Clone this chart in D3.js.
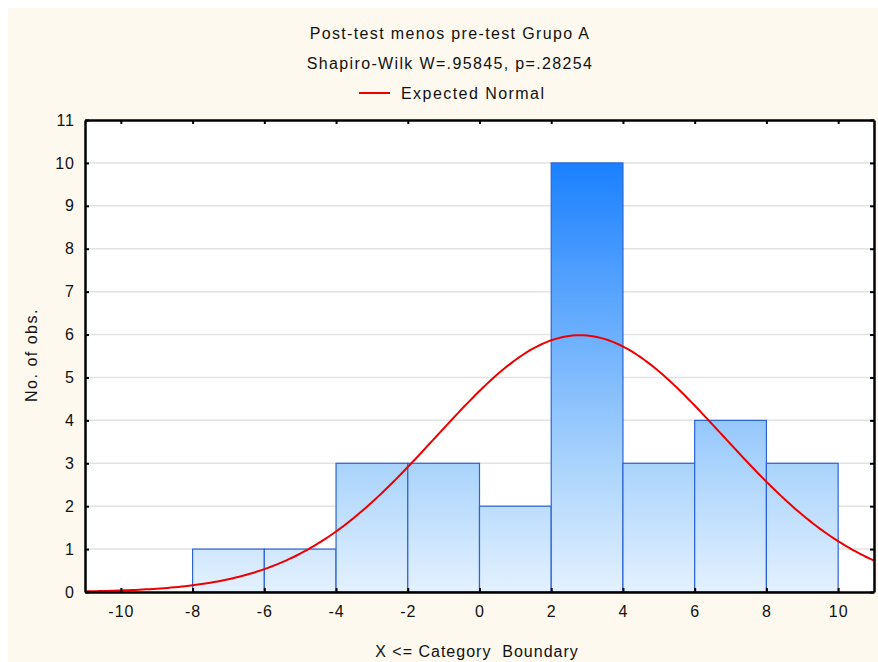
<!DOCTYPE html>
<html><head><meta charset="utf-8">
<script src="https://cdn.jsdelivr.net/npm/d3@7"></script>
<style>body{margin:0;background:#fff}svg{display:block}text{font-family:"Liberation Sans",Arial,sans-serif;fill:#111}</style>
</head><body><svg id="c" width="878" height="662"></svg>
<script>
// Data
const binStarts = [-8, -6, -4, -2, 0, 2, 4, 6, 8];
const binEnds   = [-6, -4, -2, 0, 2, 4, 6, 8, 10];
const counts    = [1, 1, 3, 3, 2, 10, 3, 4, 3];
const xTicks    = [-10, -8, -6, -4, -2, 0, 2, 4, 6, 8, 10];
const yTicks    = [0, 1, 2, 3, 4, 5, 6, 7, 8, 9, 10, 11];
const normalMean = 2.8, normalSD = 4.0, nObs = 30, binWidth = 2;
const titleLines = ["Post-test menos pre-test Grupo A", "Shapiro-Wilk W=.95845, p=.28254"];
const legendLabel = "Expected Normal";

const svg = d3.select("#c");
svg.append("rect").attr("x",8).attr("y",8).attr("width",870).attr("height",654).attr("fill","#fef9ef");

const L=85, R=874, T=120, B=592;
const x = d3.scaleLinear().domain([-11,11]).range([L,R]);
const y = d3.scaleLinear().domain([0,11]).range([B,T]);

svg.append("rect").attr("x",L).attr("y",T).attr("width",R-L).attr("height",B-T).attr("fill","#fff");

// gradient
const defs = svg.append("defs");
const g = defs.append("linearGradient").attr("id","bg").attr("gradientUnits","userSpaceOnUse")
  .attr("x1",0).attr("x2",0).attr("y1",y(0)).attr("y2",y(10));
g.append("stop").attr("offset","0").attr("stop-color","#e4f1ff");
g.append("stop").attr("offset","0.3").attr("stop-color","#a9d3fc");
g.append("stop").attr("offset","1").attr("stop-color","#1a80ff");

// grid
svg.append("g").selectAll("line").data(yTicks.filter(d=>d>0&&d<11)).join("line")
  .attr("x1",L).attr("x2",R).attr("y1",d=>y(d)).attr("y2",d=>y(d))
  .attr("stroke","#e2e2e2").attr("stroke-width",1.5);

// bars
svg.append("g").selectAll("rect").data(counts).join("rect")
  .attr("x",(d,i)=>x(binStarts[i])).attr("width",(d,i)=>x(binEnds[i])-x(binStarts[i]))
  .attr("y",d=>y(d)).attr("height",d=>y(0)-y(d))
  .attr("fill","url(#bg)").attr("stroke","#2c63d6").attr("stroke-width",1.2);

// normal curve
const pdf = v => Math.exp(-0.5*((v-normalMean)/normalSD)**2)/(normalSD*Math.sqrt(2*Math.PI));
const xs = d3.range(-11, 11.001, 0.1);
svg.append("path").datum(xs)
  .attr("d", d3.line().x(v=>x(v)).y(v=>y(nObs*binWidth*pdf(v))))
  .attr("fill","none").attr("stroke","#ee0000").attr("stroke-width",2);

// axes
const fmt = d => String(d);
const ax = (gen, tr) => svg.append("g").attr("transform",tr).call(gen);
const styleAxis = s => { s.select(".domain").attr("stroke","#000").attr("stroke-width",2.5); s.selectAll(".tick line").attr("stroke","#000").attr("stroke-width",2); s.selectAll(".tick text").style("font-size","16px").style("letter-spacing","1px").attr("fill","#111"); };
styleAxis(ax(d3.axisBottom(x).tickValues(xTicks).tickFormat(fmt).tickSizeInner(-4).tickSizeOuter(0).tickPadding(14), `translate(0,${B})`));
styleAxis(ax(d3.axisTop(x).tickValues(xTicks).tickFormat("").tickSizeInner(-4).tickSizeOuter(0), `translate(0,${T})`));
styleAxis(ax(d3.axisLeft(y).tickValues(yTicks).tickFormat(fmt).tickSizeInner(-4).tickSizeOuter(0).tickPadding(10), `translate(${L},0)`));
styleAxis(ax(d3.axisRight(y).tickValues(yTicks).tickFormat("").tickSizeInner(-4).tickSizeOuter(0), `translate(${R},0)`));

// titles
const LS = "1.35px";
svg.selectAll(".tt").data(titleLines).join("text").attr("class","tt")
  .attr("x",450).attr("y",(d,i)=>39+i*30).attr("text-anchor","middle").style("font-size","16px").style("letter-spacing",LS).text(d=>d);
svg.append("line").attr("x1",359).attr("x2",390).attr("y1",93).attr("y2",93).attr("stroke","#ee0000").attr("stroke-width",2);
svg.append("text").attr("x",401).attr("y",99).style("font-size","16px").style("letter-spacing","1.45px").text(legendLabel);

svg.append("text").attr("x",477).attr("y",657).attr("text-anchor","middle").style("font-size","16px").style("letter-spacing","1px").style("white-space","pre").text("X <= Category  Boundary");
svg.append("text").attr("transform","translate(37,355) rotate(-90)").attr("text-anchor","middle").style("font-size","16px").style("letter-spacing","1.5px").text("No. of obs.");
</script></body></html>
